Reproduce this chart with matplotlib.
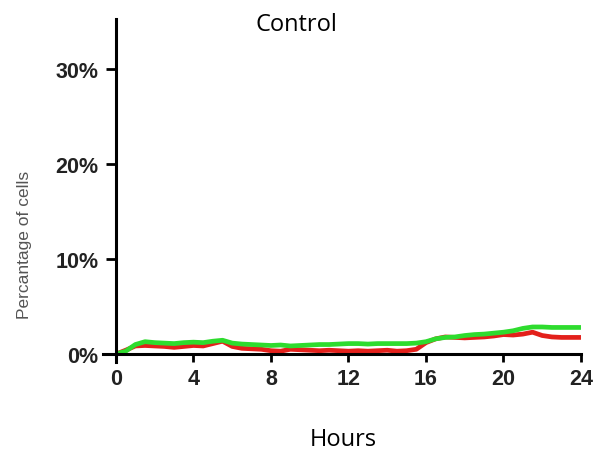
import matplotlib
matplotlib.use("Agg")
import matplotlib.pyplot as plt
import numpy as np

# ==================== 数据 ====================
hours = np.arange(0, 24.5, 0.5)

green_pct = [0.0, 0.3, 1.0, 1.3, 1.2, 1.15, 1.1, 1.2, 1.25, 1.2,
             1.35, 1.45, 1.15, 1.05, 1.0, 0.95, 0.9, 0.95, 0.85, 0.9,
             0.95, 1.0, 1.0, 1.05, 1.1, 1.1, 1.05, 1.1, 1.1, 1.1,
             1.1, 1.15, 1.3, 1.6, 1.75, 1.8, 1.95, 2.05, 2.1, 2.2,
             2.3, 2.45, 2.7, 2.85, 2.85, 2.8, 2.8, 2.8, 2.8]

red_pct = [0.0, 0.4, 0.85, 0.9, 0.85, 0.8, 0.7, 0.8, 0.9, 0.85,
           1.1, 1.35, 0.8, 0.6, 0.55, 0.5, 0.35, 0.3, 0.5, 0.45,
           0.4, 0.35, 0.4, 0.35, 0.3, 0.35, 0.3, 0.35, 0.4, 0.3,
           0.35, 0.5, 1.2, 1.6, 1.8, 1.75, 1.7, 1.75, 1.8, 1.9,
           2.05, 2.0, 2.1, 2.3, 1.95, 1.8, 1.75, 1.75, 1.75]

x_ticks = [0, 4, 8, 12, 16, 20, 24]
x_tick_labels = ["0", "4", "8", "12", "16", "20", "24"]
y_ticks = [0, 10, 20, 30]
y_tick_labels = ["0%", "10%", "20%", "30%"]

TITLE = "Control"
X_LABEL = "Hours"
Y_LABEL = "Percantage of cells"

# ==================== 绘图 ====================
plt.rcParams["font.family"] = ["Liberation Sans", "DejaVu Sans"]

fig = plt.figure(figsize=(5.96, 4.52), dpi=100)
ax = fig.add_axes([0.1735, 0.1969, 0.8013, 0.7589])

ax.plot(hours, red_pct, color="#e3201b", linewidth=3.4, solid_capstyle="butt")
ax.plot(hours, green_pct, color="#2edc2e", linewidth=3.4, solid_capstyle="butt")

ax.set_xlim(-0.65, 24)
ax.set_ylim(-0.84, 35.3)

ax.spines["top"].set_visible(False)
ax.spines["right"].set_visible(False)
ax.spines["left"].set_position(("data", 0))
ax.spines["bottom"].set_position(("data", 0))
for s in ("left", "bottom"):
    ax.spines[s].set_linewidth(2.2)
    ax.spines[s].set_color("black")

tick_font = dict(fontsize=15.5, fontweight="bold", color="#222222")
ax.set_xticks(x_ticks, labels=x_tick_labels, **tick_font)
ax.set_yticks(y_ticks, labels=y_tick_labels, **tick_font)
ax.tick_params(axis="both", direction="out", width=2.0, color="black")
ax.tick_params(axis="y", length=7.5, pad=5)
ax.tick_params(axis="x", length=6, pad=4)

fig.text(296 / 596, 1 - 25 / 452, TITLE, ha="center", va="center",
         fontsize=17, family="Open Sans", color="black")
fig.text(343 / 596, 1 - 440 / 452, X_LABEL, ha="center", va="center",
         fontsize=17, family="Open Sans", color="black")
fig.text(25 / 596, 1 - 245 / 452, Y_LABEL, ha="center", va="center",
         rotation=90, fontsize=12.5, color="#555555")

fig.savefig("out.png", dpi=100)
plt.close(fig)
